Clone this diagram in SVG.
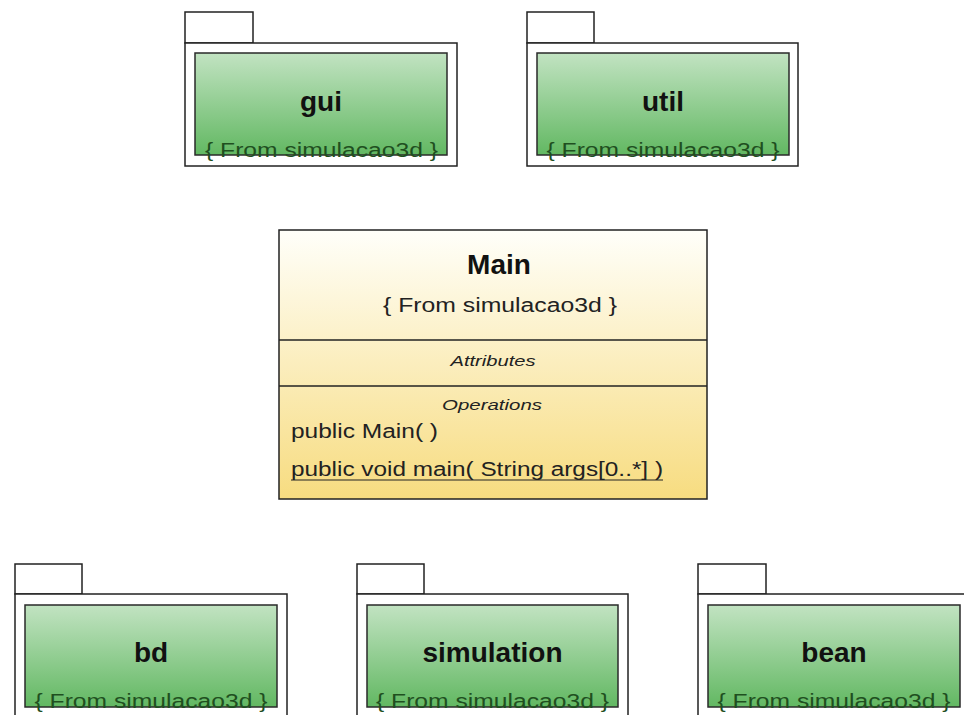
<svg xmlns="http://www.w3.org/2000/svg" width="964" height="715" viewBox="0 0 964 715">
<defs>
<linearGradient id="gGreen" x1="0" y1="0" x2="0" y2="1">
<stop offset="0" stop-color="#c2e3c2"/>
<stop offset="1" stop-color="#62b862"/>
</linearGradient>
<linearGradient id="gYellow" x1="0" y1="0" x2="0" y2="1">
<stop offset="0" stop-color="#fffffa"/>
<stop offset="1" stop-color="#f7dc80"/>
</linearGradient>
</defs>
<style>
.frame{fill:#ffffff;stroke:#222222;stroke-width:1.5}
.inner{fill:url(#gGreen);stroke:#2a2a2a;stroke-width:1.5}
.ptitle{font-family:"Liberation Sans",Arial,sans-serif;font-weight:bold;font-size:28px;fill:#111111;text-anchor:middle}
.pfrom{font-family:"Liberation Sans",Arial,sans-serif;font-size:20px;fill:#1f4f1f;text-anchor:middle}
.cls{fill:url(#gYellow);stroke:#222222;stroke-width:1.5}
.div{stroke:#222222;stroke-width:1.5}
.ctitle{font-family:"Liberation Sans",Arial,sans-serif;font-weight:bold;font-size:28px;fill:#111111;text-anchor:middle}
.cfrom{font-family:"Liberation Sans",Arial,sans-serif;font-size:20px;fill:#222222;text-anchor:middle}
.sect{font-family:"Liberation Sans",Arial,sans-serif;font-style:italic;font-size:14px;fill:#222222;text-anchor:middle}
.op{font-family:"Liberation Sans",Arial,sans-serif;font-size:20px;fill:#222222}
</style>
<g id="connectors"></g>
<g id="pkg-gui">
<rect class="frame" x="185" y="12" width="68" height="31"/>
<rect class="frame" x="185" y="43" width="272" height="123"/>
<rect class="inner" x="195" y="53" width="252" height="102"/>
<text class="ptitle" x="321" y="111">gui</text>
<text class="pfrom" x="321.5" y="157" textLength="233" lengthAdjust="spacingAndGlyphs">{ From simulacao3d }</text>
</g>
<g id="pkg-util">
<rect class="frame" x="527" y="12" width="67" height="31"/>
<rect class="frame" x="527" y="43" width="271" height="123"/>
<rect class="inner" x="537" y="53" width="252" height="102"/>
<text class="ptitle" x="663" y="111">util</text>
<text class="pfrom" x="663" y="157" textLength="233" lengthAdjust="spacingAndGlyphs">{ From simulacao3d }</text>
</g>
<g id="class-Main">
<rect class="cls" x="279" y="230" width="428" height="269"/>
<line class="div" x1="279" y1="340" x2="707" y2="340"/>
<line class="div" x1="279" y1="386" x2="707" y2="386"/>
<text class="ctitle" x="499" y="274">Main</text>
<text class="cfrom" x="500" y="312" textLength="234" lengthAdjust="spacingAndGlyphs">{ From simulacao3d }</text>
<text class="sect" x="493" y="366" textLength="85" lengthAdjust="spacingAndGlyphs">Attributes</text>
<text class="sect" x="492" y="410" textLength="100" lengthAdjust="spacingAndGlyphs">Operations</text>
<text class="op" x="291" y="438" textLength="147" lengthAdjust="spacingAndGlyphs">public Main( )</text>
<text class="op" x="291" y="476" textLength="372" lengthAdjust="spacingAndGlyphs">public void  main( String args[0..*] )</text>
<line x1="291" y1="480" x2="663" y2="480" stroke="#222222" stroke-width="1.2"/>
</g>
<g id="pkg-bd">
<rect class="frame" x="15" y="564" width="67" height="30"/>
<rect class="frame" x="15" y="594" width="272" height="130"/>
<rect class="inner" x="25" y="605" width="252" height="102"/>
<text class="ptitle" x="151" y="662">bd</text>
<text class="pfrom" x="151" y="708" textLength="233" lengthAdjust="spacingAndGlyphs">{ From simulacao3d }</text>
</g>
<g id="pkg-simulation">
<rect class="frame" x="357" y="564" width="67" height="30"/>
<rect class="frame" x="357" y="594" width="271" height="130"/>
<rect class="inner" x="367" y="605" width="251" height="102"/>
<text class="ptitle" x="492.5" y="662">simulation</text>
<text class="pfrom" x="492.5" y="708" textLength="233" lengthAdjust="spacingAndGlyphs">{ From simulacao3d }</text>
</g>
<g id="pkg-bean">
<rect class="frame" x="698" y="564" width="68" height="30"/>
<rect class="frame" x="698" y="594" width="272" height="130"/>
<rect class="inner" x="708" y="605" width="252" height="102"/>
<text class="ptitle" x="834" y="662">bean</text>
<text class="pfrom" x="834" y="708" textLength="233" lengthAdjust="spacingAndGlyphs">{ From simulacao3d }</text>
</g>
</svg>
